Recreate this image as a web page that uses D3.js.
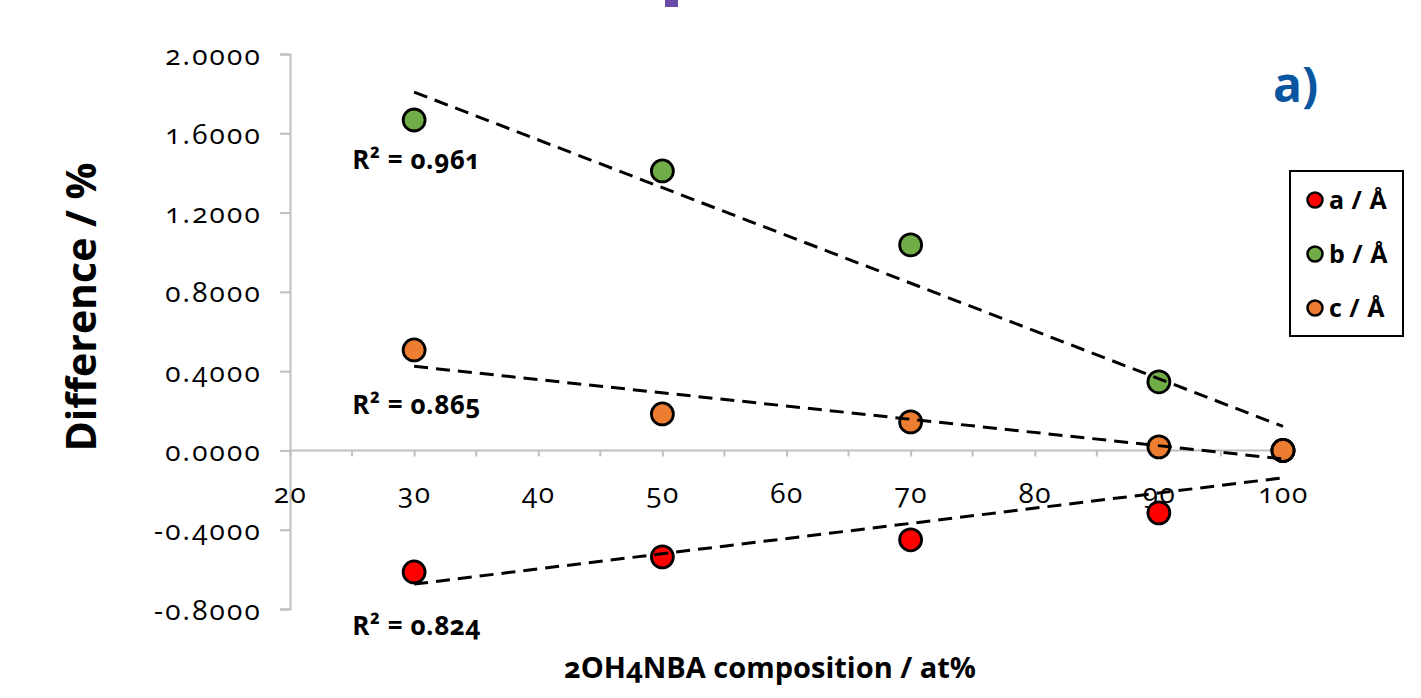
<!DOCTYPE html>
<html><head><meta charset="utf-8">
<script src="https://cdn.jsdelivr.net/npm/d3@7"></script>
<style>
html,body{margin:0;padding:0;background:#fff;}
svg{display:block;font-family:"Open Sans",sans-serif;}
.num{font-variant-numeric:oldstyle-nums;}
</style></head>
<body>
<svg id="chart" width="1421" height="698"></svg>
<script>
// ---- data ----
const compositions = [30, 50, 70, 90, 100];
const seriesNames = ["a / Å", "b / Å", "c / Å"];
const seriesColors = ["#FF0000", "#70AD47", "#ED7D31"];
const aValues = [-0.613, -0.537, -0.451, -0.315, 0.0];
const bValues = [1.667, 1.410, 1.037, 0.346, 0.0];
const cValues = [0.507, 0.184, 0.144, 0.018, 0.0];
const rSquared = ["R² = 0.824", "R² = 0.961", "R² = 0.865"];
const rLabelY = [-0.93, 1.42, 0.184];
const xTicks = [20, 30, 40, 50, 60, 70, 80, 90, 100];
const xMinorTicks = [25, 35, 45, 55, 65, 75, 85, 95];
const yTicks = [-0.8, -0.4, 0, 0.4, 0.8, 1.2, 1.6, 2.0];

const series = [aValues, bValues, cValues];

const svg = d3.select("#chart");
const x = d3.scaleLinear().domain([20, 100]).range([290, 1283]);
const y = d3.scaleLinear().domain([-0.8, 2.0]).range([609, 54]);

// purple fragment at the top (cropped element of the original figure)
svg.append("rect").attr("x", 665).attr("y", 0).attr("width", 13).attr("height", 7).attr("fill", "#6A4BA6");

// y axis
const fmtY = d => d3.format(".4f")(d).replace("−", "-");
const yAxis = d3.axisLeft(y).tickValues(yTicks).tickSize(10).tickPadding(18).tickFormat(fmtY);
const gy = svg.append("g").attr("transform", `translate(${x(20)},0)`).call(yAxis);
gy.select(".domain").attr("stroke", "#BFBFBF").attr("stroke-width", 2);
gy.selectAll(".tick line").attr("stroke", "#BFBFBF").attr("stroke-width", 2);
gy.selectAll(".tick text").attr("font-size", 28).attr("letter-spacing", 2.2).attr("fill", "#000")
  .attr("font-family", "Open Sans").attr("class", "num").attr("dy", "0.36em");

// x axis at y=0
const xAxis = d3.axisBottom(x).tickValues(xTicks).tickSize(6).tickPadding(0).tickFormat(d3.format("d"));
const gx = svg.append("g").attr("transform", `translate(0,${y(0)})`).call(xAxis);
gx.select(".domain").attr("stroke", "#BFBFBF").attr("stroke-width", 2).attr("d", `M${x(20)},0H${x(100)}`);
gx.selectAll(".tick line").attr("stroke", "#BFBFBF").attr("stroke-width", 2);
gx.selectAll(".tick text").attr("font-size", 28).attr("letter-spacing", 1.5).attr("fill", "#000")
  .attr("font-family", "Open Sans").attr("class", "num").attr("dy", null).attr("y", 53);
gx.selectAll(".minor").data(xMinorTicks).enter().append("line")
  .attr("x1", d => x(d)).attr("x2", d => x(d)).attr("y1", 0).attr("y2", 6)
  .attr("stroke", "#BFBFBF").attr("stroke-width", 2);

// points
series.forEach((vals, i) => {
  svg.append("g").selectAll("circle").data(compositions.map((c, j) => [c, vals[j]])).enter()
    .append("circle").attr("cx", d => x(d[0])).attr("cy", d => y(d[1])).attr("r", 11)
    .attr("fill", seriesColors[i]).attr("stroke", "#000").attr("stroke-width", 2.8);
});

// linear trend lines (least-squares fit of each series)
function fit(xs, ys) {
  const mx = d3.mean(xs), my = d3.mean(ys);
  let sxy = 0, sxx = 0;
  xs.forEach((v, k) => { sxy += (v - mx) * (ys[k] - my); sxx += (v - mx) * (v - mx); });
  const m = sxy / sxx;
  return t => my + m * (t - mx);
}
series.forEach((vals, i) => {
  const f = fit(compositions, vals);
  const x0 = d3.min(compositions), x1 = d3.max(compositions);
  svg.append("line").attr("x1", x(x0)).attr("y1", y(f(x0))).attr("x2", x(x1)).attr("y2", y(f(x1)))
    .attr("stroke", "#000").attr("stroke-width", 3).attr("stroke-dasharray", "14,8");
});

// R² labels
series.forEach((vals, i) => {
  svg.append("text").attr("x", x(30) - 62).attr("y", y(rLabelY[i]))
    .attr("font-size", 26).attr("font-weight", 700).attr("letter-spacing", 0.6).attr("fill", "#000").attr("class", "num")
    .text(rSquared[i]);
});

// axis titles
svg.append("text").attr("transform", `translate(96,307) rotate(-90)`).attr("text-anchor", "middle")
  .attr("font-size", 41).attr("font-weight", 700).attr("fill", "#000").text("Difference / %");
svg.append("text").attr("x", 770).attr("y", 678).attr("text-anchor", "middle")
  .attr("font-size", 29).attr("font-weight", 700).attr("fill", "#000").attr("class", "num")
  .text("2OH4NBA composition / at%");

// panel label
svg.append("text").attr("x", 1273).attr("y", 102).attr("font-size", 48).attr("font-weight", 700)
  .attr("fill", "#0B56A0").text("a)");

// legend
const lg = svg.append("g");
lg.append("rect").attr("x", 1290).attr("y", 171).attr("width", 113).attr("height", 165)
  .attr("fill", "#fff").attr("stroke", "#000").attr("stroke-width", 2);
const legendY = d3.scalePoint().domain(seriesNames).range([200, 308]);
seriesNames.forEach((n, i) => {
  lg.append("circle").attr("cx", 1315).attr("cy", legendY(n)).attr("r", 7.5)
    .attr("fill", seriesColors[i]).attr("stroke", "#000").attr("stroke-width", 2.5);
  lg.append("text").attr("x", 1329).attr("y", legendY(n)).attr("dy", "0.36em")
    .attr("font-size", 25).attr("font-weight", 700).attr("letter-spacing", 0.5).attr("fill", "#000").text(n);
});
</script>
</body></html>
